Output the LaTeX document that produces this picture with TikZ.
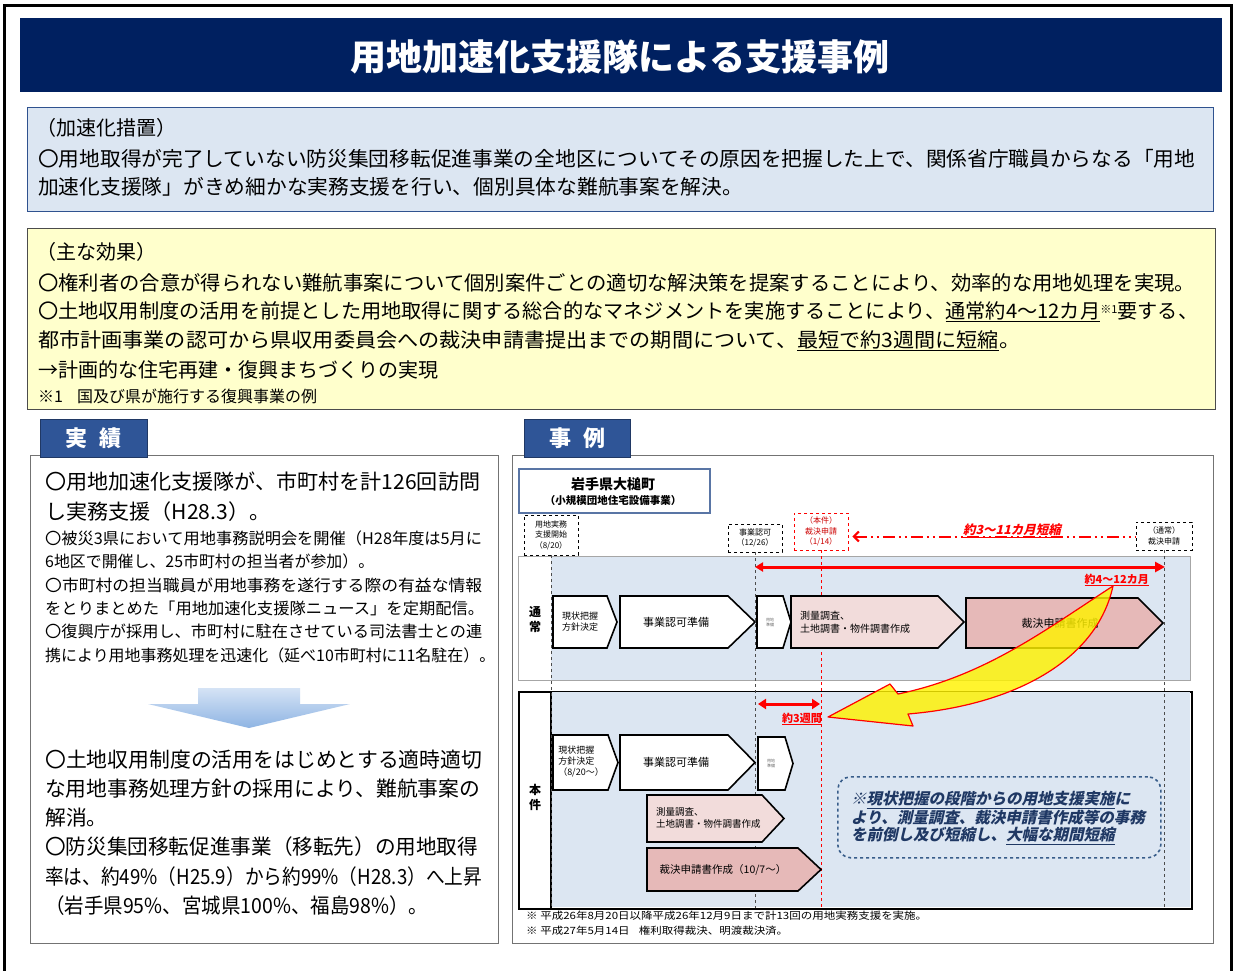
\documentclass[tikz,border=0pt]{standalone}
\usepackage{fontspec}
\usepackage{graphicx}
\setmainfont{Noto Sans CJK JP}
\newfontfamily\jpit[FakeSlant=0.22]{Noto Sans CJK JP}
\usetikzlibrary{arrows.meta,calc}
\definecolor{navy}{HTML}{002060}
\definecolor{lblue}{HTML}{DCE6F2}
\definecolor{bborder}{HTML}{2F528F}
\definecolor{lyellow}{HTML}{FFFFCC}
\definecolor{tabblue}{HTML}{2F5597}
\definecolor{tabedge}{HTML}{203864}
\definecolor{pinkA}{HTML}{F2DCDB}
\definecolor{pinkB}{HTML}{E6B9B8}
\definecolor{dkblue}{HTML}{1F3864}
\definecolor{dashblue}{HTML}{385D8A}
\definecolor{panelgray}{HTML}{A6A6A6}
\definecolor{arrowtop}{HTML}{D5E3F5}
\definecolor{arrowbot}{HTML}{8EB4E3}
\newcommand\setfs[2]{\fontsize{#1pt}{#2pt}\selectfont}
\newcommand\fitto[2]{\resizebox{#1pt}{\height}{#2}}
\newcommand\chev[6]{\draw[chevline, fill=#6] (#1,#2) -- (#5,#2) -- (#3,{(#2+#4)/2}) -- (#5,#4) -- (#1,#4) -- cycle;}
\tikzset{
  txt/.style={inner sep=0pt, anchor=west},
  rbox/.style={inner sep=0pt, anchor=north west},
  chevline/.style={draw=black, line width=1.6pt, line join=miter},
  dbox/.style={draw=black, dashed, line width=0.9pt, fill=white, inner sep=2pt, align=center, font=\setfs{8}{10.5}},
  vdash/.style={dashed, line width=1pt, draw=black!70},
  redtxt/.style={text=red, font=\setfs{11}{13}\bfseries, inner sep=0pt},
}
\begin{document}
\begin{tikzpicture}[x=1pt,y=-1pt]
\useasboundingbox (0,0) rectangle (1234,970);
% outer frame
\draw[line width=3pt] (4,975) -- (4,5) -- (1231,5) -- (1231,975);
% title
\node[rbox, fill=navy, minimum width=1202, minimum height=74] (banner) at (20,18) {};
\node[font=\setfs{36}{40}\bfseries, text=white] (title) at (620,57) {用地加速化支援隊による支援事例};
% box 1
\node[rbox, draw=bborder, fill=lblue, line width=1pt, minimum width=1186, minimum height=104] (box1) at (27,107) {};
\node[txt, font=\setfs{20}{24}] (b1a) at (36,128) {（加速化措置）};
\node[txt, font=\setfs{20.3}{24}] (b1b) at (38,159) {\fitto{1157}{〇用地取得が完了していない防災集団移転促進事業の全地区についてその原因を把握した上で、関係省庁職員からなる「用地}};
\node[txt, font=\setfs{20.3}{24}] (b1c) at (38,187) {\fitto{705}{加速化支援隊」がきめ細かな実務支援を行い、個別具体な難航事案を解決。}};
% box 2
\node[rbox, draw=black!70, fill=lyellow, line width=1pt, minimum width=1188, minimum height=181] (box2) at (27,228) {};
\node[txt, font=\setfs{20}{24}] (b2a) at (36,252) {（主な効果）};
\node[txt, font=\setfs{20}{24}] (b2b) at (38,283) {\fitto{1157}{〇権利者の合意が得られない難航事案について個別案件ごとの適切な解決策を提案することにより、効率的な用地処理を実現。}};
\node[txt, font=\setfs{20}{24}] (b2c) at (38,312) {\fitto{1160}{〇土地収用制度の活用を前提とした用地取得に関する総合的なマネジメントを実施することにより、\underline{通常約4～12カ月}\raisebox{5pt}{\setfs{11}{12}※1}要する、}};
\node[txt, font=\setfs{20}{24}] (b2d) at (38,341) {\fitto{982}{都市計画事業の認可から県収用委員会への裁決申請書提出までの期間について、\underline{最短で約3週間に短縮}。}};
\node[txt, font=\setfs{20}{24}] (b2e) at (38,370) {→計画的な住宅再建・復興まちづくりの実現};
\node[txt, font=\setfs{16}{18}] (b2f) at (38,396) {※1\hspace{14pt}国及び県が施行する復興事業の例};
% left panel
\node[rbox, draw=black!55, fill=white, line width=1pt, minimum width=468, minimum height=488] (leftbox) at (30,455) {};
\node[rbox, fill=tabblue, draw=tabedge, line width=0.8pt, minimum width=107, minimum height=38] (tab1) at (40,419) {};
\node[font=\setfs{22}{24}\bfseries, text=white] (tab1t) at (tab1.center) {実\hspace{12pt}績};
\node[txt, font=\setfs{20.8}{24}] (l1) at (45,482) {\fitto{435}{〇用地加速化支援隊が、市町村を計126回訪問}};
\node[txt, font=\setfs{20.8}{24}] (l2) at (45,512) {\fitto{225}{し実務支援（H28.3）。}};
\node[txt, font=\setfs{16}{18}] (l3) at (45,538) {\fitto{437}{〇被災3県において用地事務説明会を開催（H28年度は5月に}};
\node[txt, font=\setfs{16}{18}] (l4) at (45,561) {\fitto{329}{6地区で開催し、25市町村の担当者が参加）。}};
\node[txt, font=\setfs{16}{18}] (l5) at (45,585) {\fitto{437}{〇市町村の担当職員が用地事務を遂行する際の有益な情報}};
\node[txt, font=\setfs{16}{18}] (l6) at (45,608) {\fitto{439}{をとりまとめた「用地加速化支援隊ニュース」を定期配信。}};
\node[txt, font=\setfs{16}{18}] (l7) at (45,631) {\fitto{437}{〇復興庁が採用し、市町村に駐在させている司法書士との連}};
\node[txt, font=\setfs{16}{18}] (l8) at (45,655) {\fitto{450}{携により用地事務処理を迅速化（延べ10市町村に11名駐在）。}};
\shade[top color=arrowtop, bottom color=arrowbot, draw=none] (198,688) -- (300,688) -- (300,704) -- (350,704) -- (249,728) -- (148,704) -- (198,704) -- cycle;
\coordinate (downarrow) at (249,708);
\node[txt, font=\setfs{20.8}{24}] (l9) at (45,760) {\fitto{437}{〇土地収用制度の活用をはじめとする適時適切}};
\node[txt, font=\setfs{20.8}{24}] (l10) at (45,789) {\fitto{435}{な用地事務処理方針の採用により、難航事案の}};
\node[txt, font=\setfs{20.8}{24}] (l11) at (45,818) {解消。};
\node[txt, font=\setfs{20.8}{24}] (l12) at (45,847) {\fitto{433}{〇防災集団移転促進事業（移転先）の用地取得}};
\node[txt, font=\setfs{20.8}{24}] (l13) at (45,877) {\fitto{437}{率は、約49\%（H25.9）から約99\%（H28.3）へ上昇}};
\node[txt, font=\setfs{20.8}{24}] (l14) at (45,906) {\fitto{383}{（岩手県95\%、宮城県100\%、福島98\%）。}};
% right panel
\node[rbox, draw=black!55, fill=white, line width=1pt, minimum width=701, minimum height=488] (rightbox) at (512,455) {};
\node[rbox, fill=tabblue, draw=tabedge, line width=0.8pt, minimum width=106, minimum height=38] (tab2) at (524,419) {};
\node[font=\setfs{22}{24}\bfseries, text=white] (tab2t) at (tab2.center) {事\hspace{12pt}例};
\node[rbox, draw=bborder!80, line width=1.8pt, fill=white, minimum width=191, minimum height=44] (place) at (518,468) {};
\node[font=\setfs{14}{16}\bfseries, inner sep=0pt] (placeA) at (613,484) {岩手県大槌町};
\node[font=\setfs{10.5}{12}\bfseries, inner sep=0pt] (placeB) at (613,500) {（小規模団地住宅設備事業）};
% panels
\node[rbox, draw=panelgray, fill=white, line width=1pt, minimum width=672, minimum height=124] (panelA) at (518,556) {};
\fill[lblue] (551,557) rectangle (1189.5,679.5);
\node[rbox, draw=black, fill=white, line width=2.2pt, minimum width=673, minimum height=217] (panelB) at (518,691) {};
\fill[lblue] (552,692.2) rectangle (1189.8,906.8);
\draw[line width=2.6pt] (551,691) -- (551,908);
\node[font=\setfs{12}{15}\bfseries, align=center, inner sep=0pt] (labA) at (535,620) {通\\常};
\node[font=\setfs{12}{15}\bfseries, align=center, inner sep=0pt] (labB) at (535,797) {本\\件};
% milestone boxes
\node[dbox, minimum width=54, minimum height=40] (m1) at (551,535) {用地実務\\支援開始\\（8/20）};
\node[dbox, minimum width=54, minimum height=28] (m2) at (755,538) {事業認可\\（12/26）};
\node[dbox, draw=red, text=red!80!black, minimum width=54, minimum height=37] (m3) at (821,531.5) {（本件）\\裁決申請\\（1/14）};
\node[dbox, minimum width=56, minimum height=28] (m4) at (1164,536) {（通常）\\裁決申請};
\coordinate (m1b) at (551,908);
\coordinate (m2b) at (755,908);
\coordinate (m3b) at (821,908);
\coordinate (m4b) at (1164,908);
\draw[vdash] (m1.south) -- (m1b);
\draw[vdash] (m2.south) -- (m2b);
\draw[vdash, draw=red] (m3.south) -- (m3b);
\draw[vdash] (m4.south) -- (m4b);
% chevrons row A
\chev{553}{596}{617}{648}{607}{white}
\node[font=\setfs{9}{11}, align=left, inner sep=0pt] (a1) at (580,622) {現状把握\\方針決定};
\chev{620}{596}{755}{648}{728}{white}
\node[font=\setfs{11}{13}, inner sep=0pt] (a2) at (676,622) {事業認可準備};
\chev{757}{596}{791}{648}{783}{white}
\node[font=\setfs{4}{5}, align=center, inner sep=0pt, text=black!60] (a3) at (770,622) {用地\\準備};
\chev{791}{596}{964}{648}{938}{pinkA}
\node[font=\setfs{10}{13}, align=left, anchor=west, inner sep=0pt] (a4) at (800,622) {測量調査、\\土地調書・物件調書作成};
\chev{966}{598}{1163}{648}{1138}{pinkB}
\node[font=\setfs{11}{13}, inner sep=0pt] (a5) at (1060,623) {裁決申請書作成};
% chevrons row B
\chev{553}{735}{618}{790}{608}{white}
\node[font=\setfs{9}{11}, align=left, inner sep=0pt] (b1) at (581,762) {現状把握\\方針決定\\（8/20～）};
\chev{620}{735}{755}{790}{728}{white}
\node[font=\setfs{11}{13}, inner sep=0pt] (b2) at (676,762) {事業認可準備};
\chev{758}{737}{793}{790}{785}{white}
\node[font=\setfs{4}{5}, align=center, inner sep=0pt, text=black!60] (b3) at (771,763) {用地\\準備};
\chev{647}{795}{784}{842}{762}{pinkA}
\node[font=\setfs{9.5}{12.5}, align=left, anchor=west, inner sep=0pt] (b4) at (656,818) {測量調査、\\土地調書・物件調書作成};
\chev{647}{848}{821}{891}{798}{pinkB}
\node[font=\setfs{10.5}{13}, inner sep=0pt] (b5) at (723,870) {裁決申請書作成（10/7～）};
% red arrows
\coordinate (ra1) at (755,567);
\coordinate (ra2) at (1165,567);
\draw[red, line width=3pt, {Triangle[length=8pt,width=9pt]}-{Triangle[length=10pt,width=10pt]}] (ra1) -- (ra2);
\node[redtxt, anchor=east] (r412) at (1149,580) {\underline{約4～12カ月}};
\coordinate (rb1) at (758,704);
\coordinate (rb2) at (820,704);
\draw[red, line width=3pt, {Triangle[length=8pt,width=10pt]}-{Triangle[length=8pt,width=10pt]}] (rb1) -- (rb2);
\node[redtxt, anchor=east] (r3w) at (822,719) {\underline{約3週間}};
\draw[red, line width=2pt, dash pattern=on 12pt off 4pt on 2pt off 4pt on 2pt off 4pt, {Straight Barb[length=5pt,width=10pt]}-] (m3.east) ++(4,5) -- (m4.west |- 0,536.5);
\node[text=red, font=\setfs{12.5}{14}\bfseries\jpit, inner sep=0pt] (r311) at (1012,531) {\underline{約3～11カ月短縮}};
% yellow curved arrow
\path[fill=yellow, fill opacity=0.82, draw=red, line width=1.2pt, line join=round]
  (1113,586) .. controls (1045,630) and (985,676) .. (898,694)
  -- (890,684) -- (828,717) -- (913,726) -- (908,714)
  .. controls (1015,705) and (1097,660) .. (1113,586) -- cycle;
\coordinate (yarrowtip) at (828,717);
% note box
\node[rbox, draw=dashblue, dashed, line width=1.6pt, rounded corners=13pt, fill=lblue, minimum width=323, minimum height=81] (note) at (837,776) {};
\node[txt, text=dkblue, font=\setfs{15.5}{18}\jpit\bfseries] (n1) at (851,800) {※\underline{現状把握の段階からの用地支援実施}に};
\node[txt, text=dkblue, font=\setfs{15.5}{18}\jpit\bfseries] (n2) at (851,818) {より、測量調査、裁決申請書作成等の事務};
\node[txt, text=dkblue, font=\setfs{15.5}{18}\jpit\bfseries] (n3) at (851,836) {を前倒し及び短縮し、\underline{大幅な期間短縮}};
% footnotes
\node[txt, font=\setfs{10}{12}] (f1) at (526,916) {\fitto{401}{※ 平成26年8月20日以降平成26年12月9日まで計13回の用地実務支援を実施。}};
\node[txt, font=\setfs{10}{12}] (f2) at (526,931) {\fitto{262}{※ 平成27年5月14日\hspace{8pt}権利取得裁決、明渡裁決済。}};
\end{tikzpicture}
\end{document}
